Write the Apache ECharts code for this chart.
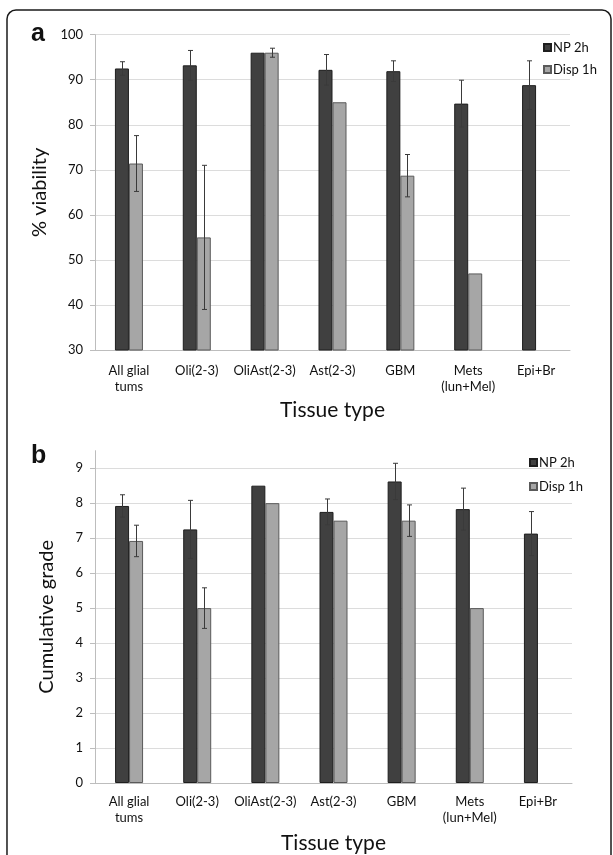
<!DOCTYPE html>
<html>
<head>
<meta charset="utf-8">
<script src="https://cdn.jsdelivr.net/npm/echarts@6/dist/echarts.min.js"></script>
<style>
html,body{margin:0;padding:0;background:#fff;}
#chart{width:613px;height:855px;}
</style>
</head>
<body>
<div id="chart"></div>
<script>
const categories = ['All glial\ntums', 'Oli(2-3)', 'OliAst(2-3)', 'Ast(2-3)', 'GBM', 'Mets\n(lun+Mel)', 'Epi+Br'];
const seriesNames = ['NP 2h', 'Disp 1h'];

// Panel a: % viability
const viabNP = [92.5, 93.2, 96.0, 92.2, 91.9, 84.7, 88.8];
const viabDisp = [71.4, 55.0, 96.0, 85.0, 68.7, 47.0, null];
const viabNPErr = [1.5, 3.3, null, 3.4, 2.3, 5.2, 5.4];
const viabDispErr = [6.2, 16.0, 1.0, null, 4.7, null, null];
const viabTicks = [30, 40, 50, 60, 70, 80, 90, 100];

// Panel b: cumulative grade
const gradeNP = [7.92, 7.25, 8.5, 7.75, 8.62, 7.83, 7.13];
const gradeDisp = [6.92, 5.0, 8.0, 7.5, 7.5, 5.0, null];
const gradeNPErr = [0.32, 0.83, null, 0.37, 0.52, 0.6, 0.63];
const gradeDispErr = [0.45, 0.58, null, null, 0.45, null, null];
const gradeTicks = [0, 1, 2, 3, 4, 5, 6, 7, 8, 9];

const FONT = 'Lato, "Open Sans", sans-serif';
const TXT = '#111111';
const DARK = '#404040', DARK_BORDER = '#1e1e1e';
const LIGHT = '#a6a6a6', LIGHT_BORDER = '#5a5a5a';
const BAR_W = 14;

function errData(vals, errs) {
  const out = [];
  vals.forEach((v, i) => { if (v != null && errs[i] != null) out.push([i, v, errs[i]]); });
  return out;
}

function errSeries(vals, errs, offset, gridIdx) {
  return {
    type: 'custom',
    xAxisIndex: gridIdx, yAxisIndex: gridIdx,
    z: 5,
    silent: true,
    encode: { x: 0, y: 1 },
    data: errData(vals, errs),
    renderItem: function (params, api) {
      const idx = api.value(0), v = api.value(1), e = api.value(2);
      const c = api.coord([idx, v]);
      const x = Math.round(c[0] + offset) + 0.5;
      const yt = api.coord([idx, v + e])[1];
      const yb = api.coord([idx, v - e])[1];
      const st = { stroke: '#3a3a3a', lineWidth: 1 };
      const cap = 2.5;
      return {
        type: 'group',
        children: [
          { type: 'line', shape: { x1: x, y1: yt, x2: x, y2: yb }, style: st },
          { type: 'line', shape: { x1: x - cap, y1: yt, x2: x + cap, y2: yt }, style: st },
          { type: 'line', shape: { x1: x - cap, y1: yb, x2: x + cap, y2: yb }, style: st }
        ]
      };
    }
  };
}

function barSeries(name, data, gridIdx) {
  const dark = name === seriesNames[0];
  return {
    name: name,
    type: 'bar',
    xAxisIndex: gridIdx, yAxisIndex: gridIdx,
    data: data,
    barWidth: BAR_W,
    barGap: '0%',
    itemStyle: {
      color: dark ? DARK : LIGHT,
      borderColor: dark ? DARK_BORDER : LIGHT_BORDER,
      borderWidth: 1
    }
  };
}

const xAxisCommon = {
  type: 'category',
  data: categories,
  axisLine: { show: true, lineStyle: { color: '#bdbdbd', width: 1 } },
  axisTick: { show: false },
  axisLabel: { interval: 0, fontFamily: FONT, fontSize: 13, color: TXT, lineHeight: 16 },
  nameLocation: 'middle',
  nameTextStyle: { fontFamily: FONT, fontSize: 21, color: TXT }
};

const chart = echarts.init(document.getElementById('chart'), null, { renderer: 'canvas' });

const option = {
  animation: false,
  backgroundColor: '#ffffff',
  grid: [
    { left: 95, right: 43, top: 34.7, height: 315.3 },
    { left: 95, right: 41, top: 450.7, height: 332.3 }
  ],
  legend: [
    {
      data: seriesNames, orient: 'vertical', left: 538, top: 36,
      itemWidth: 7, itemHeight: 7, itemGap: 9, icon: 'rect',
      textStyle: { fontFamily: FONT, fontSize: 13, color: TXT, padding: [0, 0, 0, -3] },
      selectedMode: false
    },
    {
      data: seriesNames, orient: 'vertical', left: 524, top: 451,
      itemWidth: 7, itemHeight: 7, itemGap: 11, icon: 'rect',
      textStyle: { fontFamily: FONT, fontSize: 13, color: TXT, padding: [0, 0, 0, -3] },
      selectedMode: false
    }
  ],
  xAxis: [
    Object.assign({}, xAxisCommon, {
      gridIndex: 0, name: 'Tissue type', nameGap: 50,
      axisLabel: Object.assign({}, xAxisCommon.axisLabel, { margin: 13 })
    }),
    Object.assign({}, xAxisCommon, {
      gridIndex: 1, name: 'Tissue type', nameGap: 50,
      axisLabel: Object.assign({}, xAxisCommon.axisLabel, { margin: 11 })
    })
  ],
  yAxis: [
    {
      type: 'value', gridIndex: 0,
      min: viabTicks[0], max: viabTicks[viabTicks.length - 1], interval: 10,
      name: '% viability', nameLocation: 'middle', nameGap: 43,
      nameTextStyle: { fontFamily: FONT, fontSize: 20, color: TXT },
      axisLine: { show: true, lineStyle: { color: '#bdbdbd' } },
      axisTick: { show: true, length: 5, lineStyle: { color: '#bdbdbd' } },
      axisLabel: { fontFamily: FONT, fontSize: 13, color: TXT, margin: 12 },
      splitLine: { show: true, lineStyle: { color: '#dcdcdc', width: 1 } }
    },
    {
      type: 'value', gridIndex: 1,
      min: gradeTicks[0], max: 9.5, interval: 1,
      name: 'Cumulative grade', nameLocation: 'middle', nameGap: 38,
      nameTextStyle: { fontFamily: FONT, fontSize: 20, color: TXT },
      axisLine: { show: true, lineStyle: { color: '#bdbdbd' } },
      axisTick: { show: true, length: 5, lineStyle: { color: '#bdbdbd' } },
      axisLabel: {
        fontFamily: FONT, fontSize: 13, color: TXT, margin: 12,
        showMaxLabel: false,
        formatter: function (v) { return gradeTicks.indexOf(v) >= 0 ? String(v) : ''; }
      },
      splitLine: {
        show: true,
        lineStyle: { color: ['#dcdcdc','#dcdcdc','#dcdcdc','#dcdcdc','#dcdcdc','#dcdcdc','#dcdcdc','#dcdcdc','#dcdcdc','#dcdcdc','rgba(0,0,0,0)'], width: 1 }
      }
    }
  ],
  graphic: [
    {
      type: 'rect', silent: true, z: -1,
      shape: { x: 7, y: 10, width: 604, height: 900, r: 9 },
      style: { fill: 'none', stroke: '#1a1a1a', lineWidth: 1.5 }
    },
    {
      type: 'text', left: 31, top: 22,
      style: { text: 'a', fontFamily: 'Liberation Sans, Arial, sans-serif', fontSize: 25, fontWeight: 'bold', fill: '#111' }
    },
    {
      type: 'text', left: 31, top: 444,
      style: { text: 'b', fontFamily: 'Liberation Sans, Arial, sans-serif', fontSize: 25, fontWeight: 'bold', fill: '#111' }
    }
  ],
  series: [
    barSeries(seriesNames[0], viabNP, 0),
    barSeries(seriesNames[1], viabDisp, 0),
    errSeries(viabNP, viabNPErr, -BAR_W / 2, 0),
    errSeries(viabDisp, viabDispErr, BAR_W / 2, 0),
    barSeries(seriesNames[0], gradeNP, 1),
    barSeries(seriesNames[1], gradeDisp, 1),
    errSeries(gradeNP, gradeNPErr, -BAR_W / 2, 1),
    errSeries(gradeDisp, gradeDispErr, BAR_W / 2, 1)
  ]
};

chart.setOption(option);
</script>
</body>
</html>
